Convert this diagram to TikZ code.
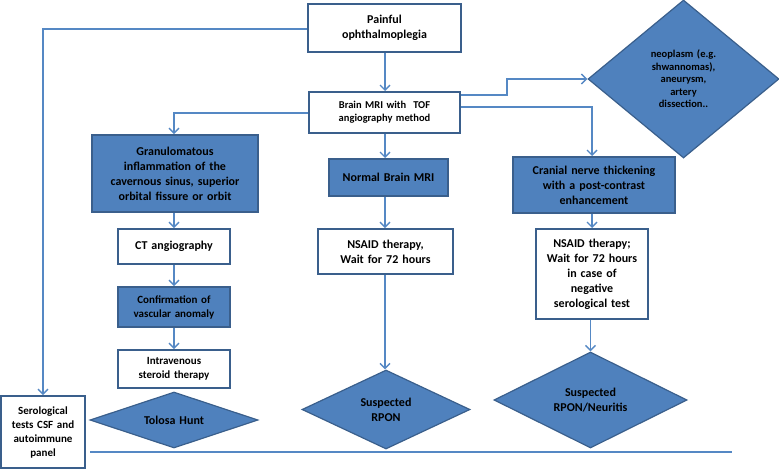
\documentclass[tikz,border=0pt]{standalone}
\usepackage{fontspec}
\setmainfont{Carlito}
\usetikzlibrary{shapes.geometric,arrows.meta}
\definecolor{fillblue}{HTML}{4F81BD}
\definecolor{edgeblue}{HTML}{3A5F8C}
\definecolor{linkblue}{HTML}{5588C4}
\tikzset{
  wbox/.style={draw=edgeblue, line width=2pt, fill=white, inner sep=0pt, align=center, font=\bfseries\fontsize{12}{15}\selectfont},
  bbox/.style={wbox, fill=fillblue},
  diam/.style={diamond, draw=edgeblue, line width=1.2pt, fill=fillblue, inner sep=0pt},
  dtext/.style={align=center, inner sep=0pt, font=\bfseries\fontsize{12}{15}\selectfont},
  link/.style={draw=linkblue, line width=1.4pt, -{Straight Barb[length=5pt,width=10pt,line width=1.4pt]}},
  plain/.style={draw=linkblue, line width=1.4pt}
}
\begin{document}
\begin{tikzpicture}[x=1pt,y=-1pt]
\useasboundingbox (0,0) rectangle (779,469);
% boxes
\node[wbox, minimum width=153pt, minimum height=48pt, text width=145pt] (pain) at (384.5,28) {Painful\\ophthalmoplegia};
\node[wbox, minimum width=151pt, minimum height=41pt, text width=145pt, font=\bfseries\fontsize{10.5}{13}\selectfont] (mri) at (384.5,112.5) {Brain MRI with~ TOF\\angiography method};
\node[bbox, minimum width=166pt, minimum height=77pt, text width=160pt] (gran) at (175,173.5) {Granulomatous\\inflammation of the\\cavernous sinus, superior\\orbital fissure or orbit};
\node[bbox, minimum width=119pt, minimum height=37pt, text width=115pt] (normal) at (388.5,177.5) {Normal Brain MRI};
\node[bbox, minimum width=162pt, minimum height=56pt, text width=156pt] (cran) at (594,185) {Cranial nerve thickening\\with a post-contrast\\enhancement};
\node[wbox, minimum width=112pt, minimum height=35pt, text width=106pt] (ct) at (174,246.5) {CT angiography};
\node[wbox, minimum width=135pt, minimum height=45pt, text width=129pt] (nsa) at (385.5,251.5) {NSAID therapy,\\Wait for 72 hours};
\node[wbox, minimum width=112pt, minimum height=90pt, text width=108pt] (nsb) at (592,274) {NSAID therapy;\\Wait for 72 hours\\in case of\\negative\\serological test};
\node[bbox, minimum width=112pt, minimum height=40pt, text width=106pt, font=\bfseries\fontsize{11}{14}\selectfont] (conf) at (174,307) {Confirmation of\\vascular anomaly};
\node[wbox, minimum width=112pt, minimum height=38pt, text width=106pt, font=\bfseries\fontsize{11}{14}\selectfont] (iv) at (174,369) {Intravenous\\steroid therapy};
\node[wbox, minimum width=84pt, minimum height=72pt, text width=80pt, font=\bfseries\fontsize{11}{14}\selectfont] (sero) at (43,432) {Serological\\tests CSF and\\autoimmune\\panel};
% diamonds
\node[diam, minimum width=191pt, minimum height=158pt] (neo) at (683.5,79) {};
\node[dtext, text width=90pt, font=\bfseries\fontsize{10.5}{12.5}\selectfont] (neot) at (neo.center) {neoplasm (e.g.\\shwannomas),\\aneurysm,\\artery\\dissection..};
\node[diam, minimum width=168pt, minimum height=56pt] (tol) at (174,420) {};
\node[dtext, text width=90pt] (tolt) at (tol.center) {Tolosa Hunt};
\node[diam, minimum width=168pt, minimum height=79pt] (rpon) at (386,409.5) {};
\node[dtext, text width=90pt] (rpont) at (rpon.center) {Suspected\\RPON};
\node[diam, minimum width=193pt, minimum height=96pt] (neur) at (590.5,400) {};
\node[dtext, text width=100pt] (neurt) at (neur.center) {Suspected\\RPON/Neuritis};
% connectors
\coordinate (bl) at (90,452);
\coordinate (br) at (732,452);
\draw[link] (pain.south -| 385,0) -- (mri.north -| 385,0);
\draw[link] (pain.west |- 0,29) -| (sero.north);
\draw[link] (mri.east |- 0,95) -- (507,95) |- (neo.west);
\draw[link] (mri.east |- 0,107) -| (cran.north -| 592,0);
\draw[link] (mri.west |- 0,113) -| (gran.north -| 174,0);
\draw[link] (mri.south -| 385,0) -- (normal.north -| 385,0);
\draw[link] (normal.south -| 385,0) -- (nsa.north -| 385,0);
\draw[link] (nsa.south -| 385,0) -- (rpon.north -| 385,0);
\draw[link] (gran.south -| 174,0) -- (ct.north);
\draw[link] (ct.south) -- (conf.north);
\draw[link] (conf.south) -- (iv.north);
\draw[link] (cran.south -| 592,0) -- (nsb.north);
\draw[link] (nsb.south -| 590.5,0) -- (neur.north);
\draw[plain] (bl) -- (br);
\end{tikzpicture}
\end{document}
